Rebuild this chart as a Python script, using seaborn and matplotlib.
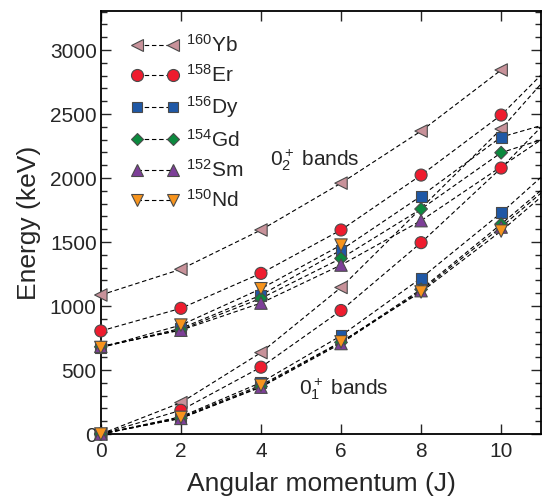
import matplotlib
matplotlib.use("Agg")
import matplotlib.pyplot as plt
from matplotlib.lines import Line2D
from matplotlib.ticker import MultipleLocator
import numpy as np
import pandas as pd
import seaborn as sns

nan = np.nan

# angular momentum values (J=12 points sit outside the x range, only the lines show)
J_VALUES = [0, 2, 4, 6, 8, 10, 12]

NUCLEI = ["160Yb", "158Er", "156Dy", "154Gd", "152Sm", "150Nd"]
LABELS = [r"$^{160}$Yb", r"$^{158}$Er", r"$^{156}$Dy", r"$^{154}$Gd", r"$^{152}$Sm", r"$^{150}$Nd"]

# 0+_1 (ground) bands, keV
YB_GROUND = [0, 245, 636, 1145, nan, 2383, 3090]
ER_GROUND = [0, 185, 522, 965, 1495, 2078, 2720]
DY_GROUND = [0, 135, 402, 768, 1218, 1727, 2287]
GD_GROUND = [0, 123, 371, 716, 1130, 1640, 2170]
SM_GROUND = [0, 122, 366, 707, 1120, 1617, 2150]
ND_GROUND = [0, 130, 381, 720, 1110, 1586, 2120]

# 0+_2 bands, keV
YB_BAND2 = [1086, 1287, 1594, 1960, 2367, 2844, nan]
ER_BAND2 = [805, 982, 1255, 1594, 2023, 2492, 3120]
DY_BAND2 = [676, 825, 1085, 1437, 1859, 2320, 2500]
GD_BAND2 = [681, 815, 1060, 1372, 1758, 2198, 2400]
SM_BAND2 = [685, 811, 1023, 1320, 1667, nan, 2510]
ND_BAND2 = [676, 851, 1135, 1476, nan, nan, nan]

GROUND = [YB_GROUND, ER_GROUND, DY_GROUND, GD_GROUND, SM_GROUND, ND_GROUND]
BAND2 = [YB_BAND2, ER_BAND2, DY_BAND2, GD_BAND2, SM_BAND2, ND_BAND2]

COLORS = ["#C8929A", "#EE1C2E", "#1F58A6", "#0B8A3E", "#7D3F98", "#F7941D"]
MARKERS = ["<", "o", "s", "D", "^", "v"]
MARKER_AREA = [80, 75, 62, 42, 80, 80]
EDGE = "#4A4A4A"


def build_frame():
    rows = []
    for band_name, band in [("ground", GROUND), ("band2", BAND2)]:
        for nucleus, energies in zip(NUCLEI, band):
            for j, e in zip(J_VALUES, energies):
                if np.isnan(e):
                    continue
                rows.append({"nucleus": nucleus, "band": band_name,
                             "series": nucleus + "_" + band_name, "J": j, "E": e})
    return pd.DataFrame(rows)


def main():
    sns.set_style("ticks")
    plt.rcParams["font.family"] = ["Liberation Sans", "DejaVu Sans"]
    plt.rcParams["mathtext.fontset"] = "custom"
    plt.rcParams["mathtext.rm"] = "Liberation Sans"
    plt.rcParams["mathtext.it"] = "Liberation Sans:italic"
    plt.rcParams["mathtext.bf"] = "Liberation Sans:bold"

    df = build_frame()

    fig = plt.figure(figsize=(5.45, 5.0), dpi=100)
    ax = fig.add_axes([0.185, 0.132, 0.808, 0.846])

    sns.lineplot(data=df, x="J", y="E", units="series", estimator=None,
                 color="black", linewidth=0.8, linestyle=(0, (4, 2.5)),
                 sort=True, ax=ax, legend=False)

    pts = df[df["J"] <= 10]
    sns.scatterplot(data=pts, x="J", y="E", hue="nucleus", style="nucleus",
                    size="nucleus",
                    hue_order=NUCLEI, style_order=NUCLEI, size_order=NUCLEI,
                    palette=dict(zip(NUCLEI, COLORS)),
                    markers=dict(zip(NUCLEI, MARKERS)),
                    sizes=dict(zip(NUCLEI, MARKER_AREA)),
                    edgecolor=EDGE, linewidth=0.8,
                    ax=ax, legend=False, zorder=3)
    ax.collections[-1].set_clip_on(False)

    ax.set_xlim(0, 11)
    ax.set_ylim(0, 3305)
    ax.set_xticks([0, 2, 4, 6, 8, 10])
    ax.set_yticks([0, 500, 1000, 1500, 2000, 2500, 3000])
    ax.yaxis.set_minor_locator(MultipleLocator(100))
    ax.tick_params(which="both", direction="in", top=True, right=True,
                   labelsize=15, width=1.0)
    ax.tick_params(which="major", length=7)
    ax.tick_params(axis="x", which="major", pad=6)
    ax.tick_params(axis="y", which="major", pad=3)
    ax.tick_params(which="minor", length=4)
    for sp in ax.spines.values():
        sp.set_linewidth(1.3)
        sp.set_color("black")

    ax.set_xlabel("Angular momentum (J)", fontsize=19, labelpad=8)
    ax.set_ylabel("Energy (keV)", fontsize=19, labelpad=6)

    ax.text(4.22, 2140, r"$0_2^+$ bands", fontsize=15, va="center", ha="left")
    ax.text(4.95, 350, r"$0_1^+$ bands", fontsize=15, va="center", ha="left")

    handles = [
        Line2D([0], [0], color="black", linestyle=(0, (4, 2.5)), linewidth=0.8,
               marker=m, markersize=np.sqrt(a), markerfacecolor=c,
               markeredgecolor=EDGE, markeredgewidth=0.8, label=lab)
        for m, c, lab, a in zip(MARKERS, COLORS, LABELS, MARKER_AREA)
    ]
    ax.legend(handles=handles, loc="upper left", bbox_to_anchor=(0.04, 0.975),
              frameon=False, numpoints=2, handlelength=2.3, handletextpad=0.35,
              labelspacing=0.4, fontsize=15, borderaxespad=0.2)

    fig.savefig("out.png", dpi=100)
    plt.close(fig)


if __name__ == "__main__":
    main()
